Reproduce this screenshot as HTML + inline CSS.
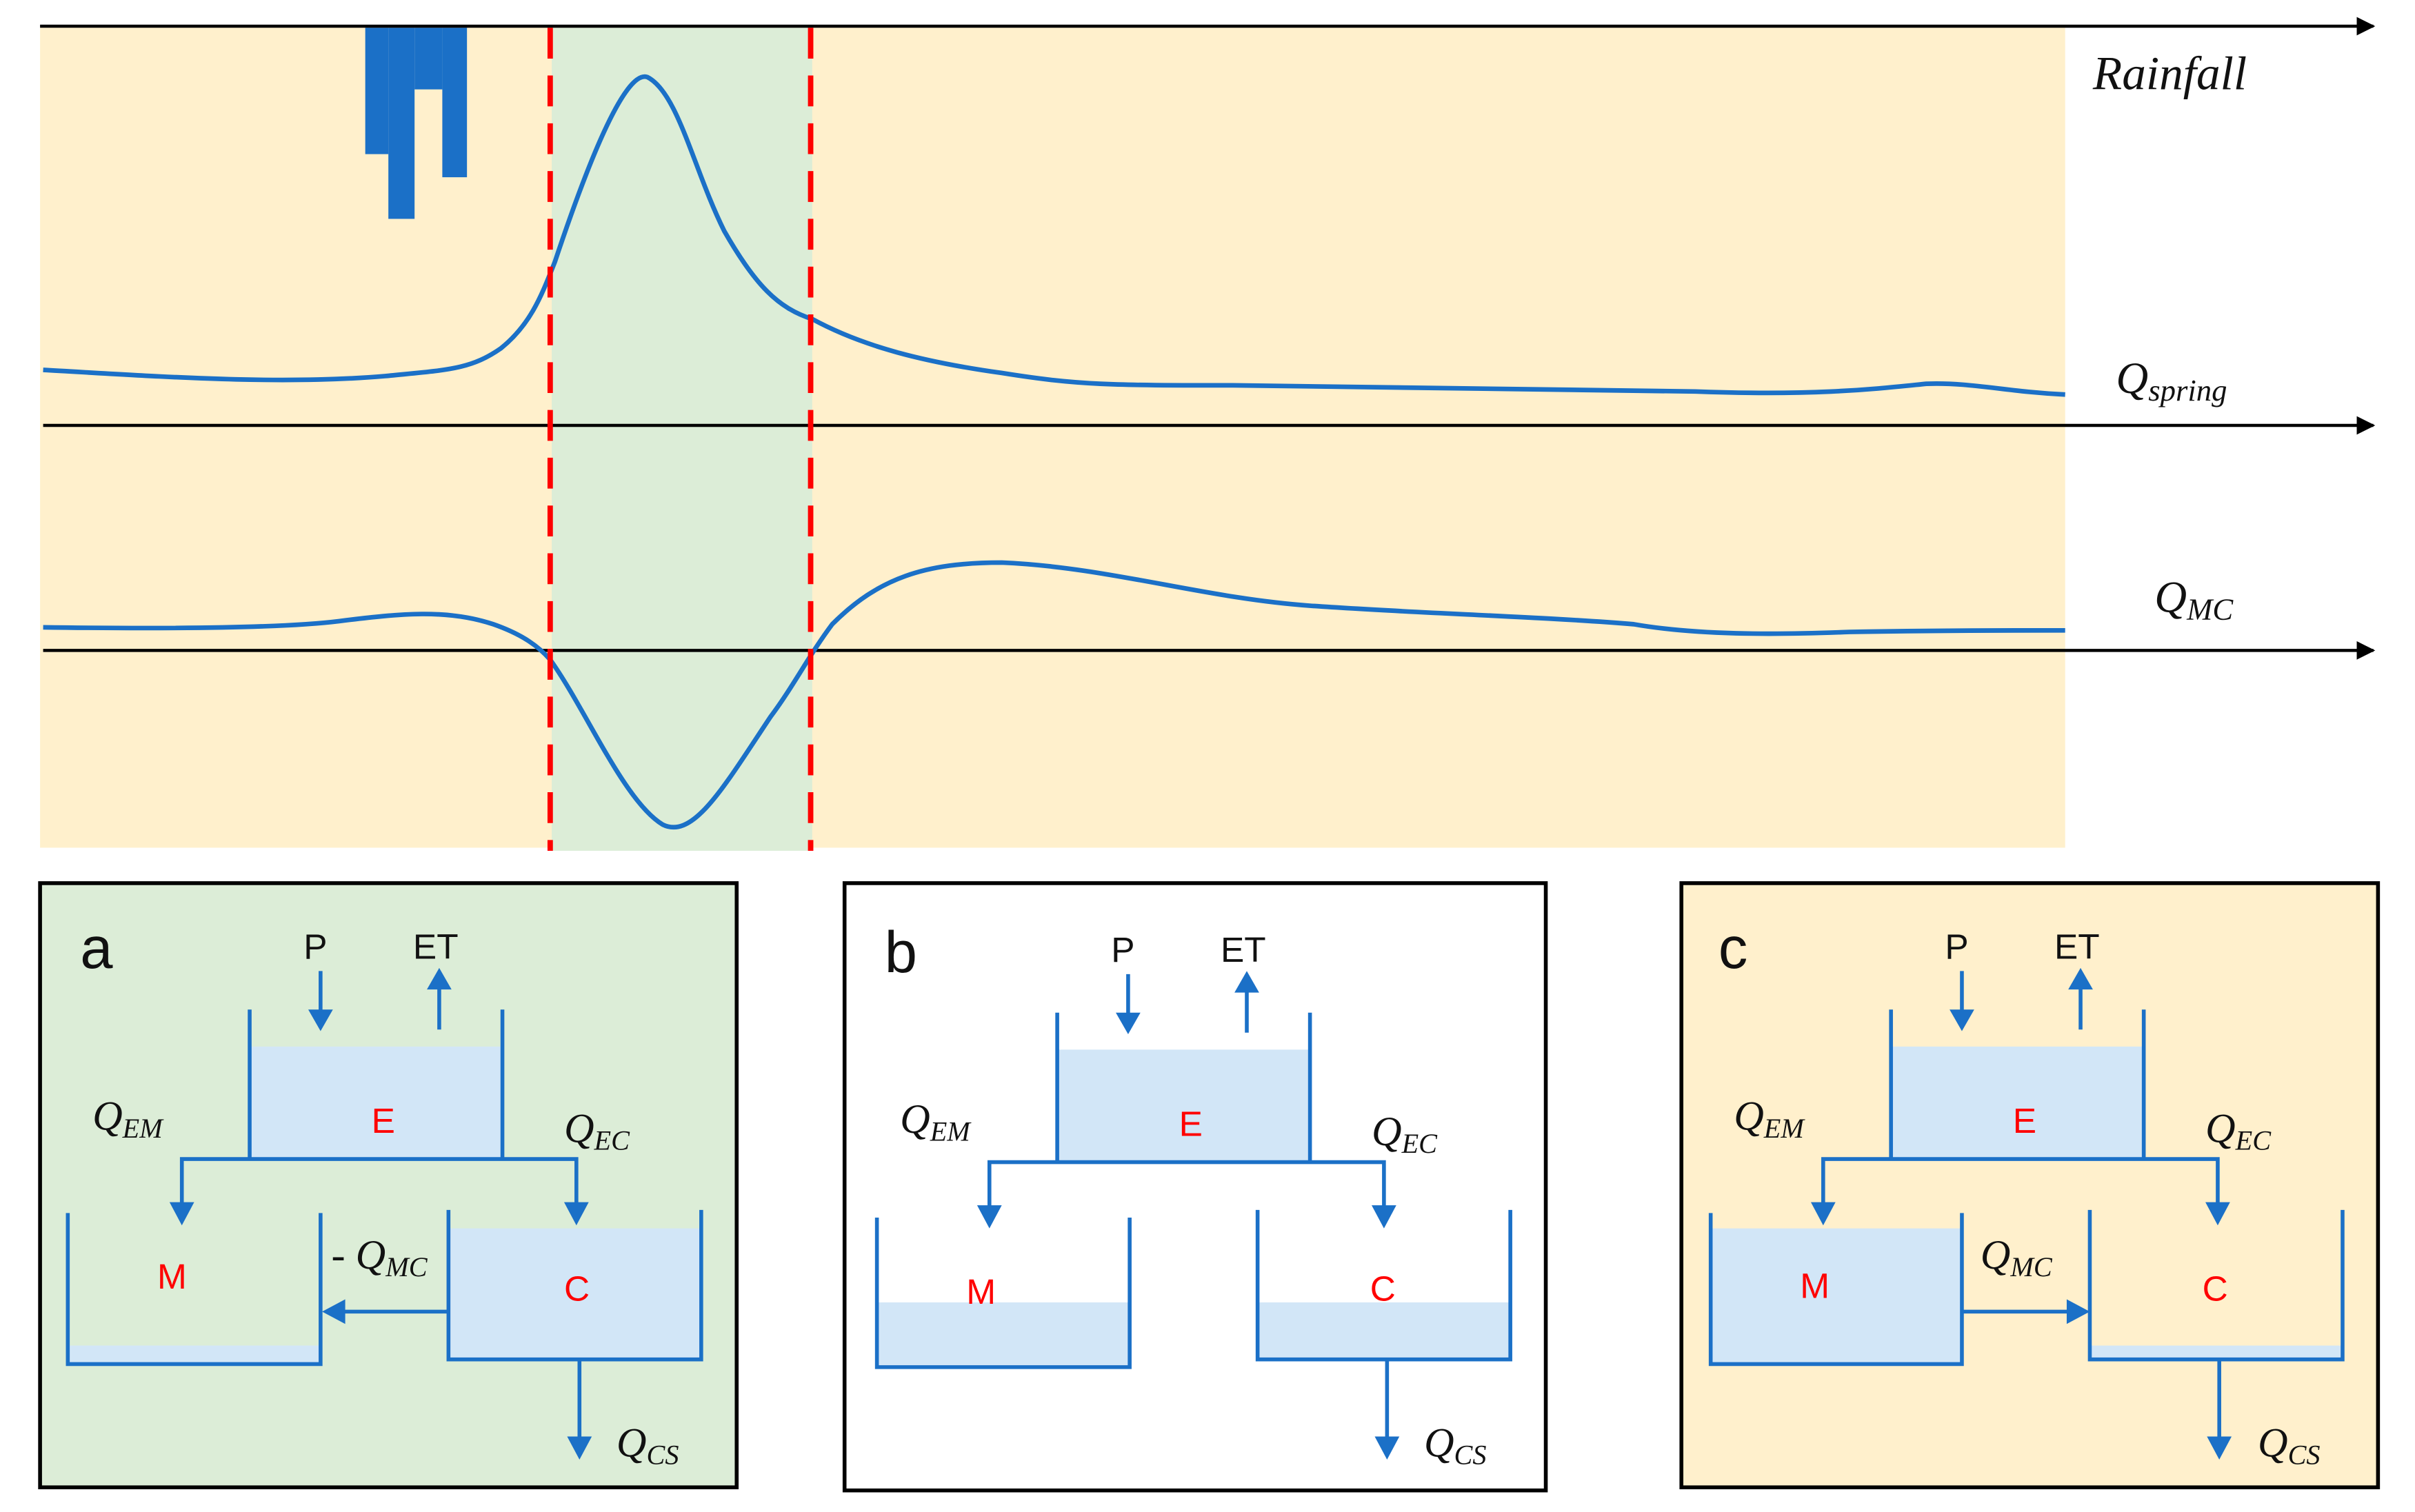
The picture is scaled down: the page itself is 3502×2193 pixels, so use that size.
<!DOCTYPE html>
<html><head><meta charset="utf-8"><style>
html,body{margin:0;padding:0;background:#fff;}
svg{display:block;}
.q{font-family:"Liberation Serif",serif;font-style:italic;fill:#111;}
.s{font-family:"Liberation Sans",sans-serif;fill:#111;}
.r{font-family:"Liberation Sans",sans-serif;fill:#f00;}
</style></head><body>
<svg width="3502" height="2193" viewBox="0 0 1567 981" preserveAspectRatio="none" xmlns="http://www.w3.org/2000/svg">
<defs>
<marker id="ah" viewBox="0 0 10 10" refX="9" refY="5" markerWidth="6" markerHeight="6" orient="auto"><path d="M0,0 L10,5 L0,10 z" fill="#000"/></marker>
</defs>
<rect x="26" y="18" width="1314" height="532" fill="#fff0cc"/>
<rect x="358" y="18" width="169" height="534" fill="#dcedd7"/>
<rect x="237" y="18" width="15" height="82" fill="#1b70c7"/>
<rect x="252" y="18" width="17" height="124" fill="#1b70c7"/>
<rect x="269" y="18" width="18" height="40" fill="#1b70c7"/>
<rect x="287" y="18" width="16" height="97" fill="#1b70c7"/>
<line x1="26" y1="17" x2="1540" y2="17" stroke="#000" stroke-width="2" marker-end="url(#ah)"/>
<line x1="28" y1="276" x2="1540" y2="276" stroke="#000" stroke-width="2" marker-end="url(#ah)"/>
<line x1="28" y1="422" x2="1540" y2="422" stroke="#000" stroke-width="2" marker-end="url(#ah)"/>
<path d="M28,240 C100,244 180,250 250,244 C290,240 305,240 325,226 C345,210 352,190 360,170 C380,110 405,45 420,50 C440,60 450,110 470,150 C490,185 505,200 527,207 C560,225 600,235 650,242 C700,250 720,250 800,250 C900,251 1000,252 1100,254 C1180,257 1220,252 1250,249 C1280,248 1300,254 1340,256" fill="none" stroke="#1b70c7" stroke-width="3"/>
<path d="M28,407 C100,408 180,408 220,403 C260,398 290,395 320,405 C340,412 350,420 357,428 C380,460 405,520 430,535 C450,545 470,510 500,465 C515,445 525,425 540,405 C570,375 600,365 650,365 C720,368 780,388 850,393 C920,398 1000,400 1060,405 C1100,412 1150,412 1200,410 C1260,409 1300,409 1340,409" fill="none" stroke="#1b70c7" stroke-width="3"/>
<line x1="357" y1="18" x2="357" y2="552" stroke="#f00" stroke-width="3.5" stroke-dasharray="20,11"/>
<line x1="526" y1="18" x2="526" y2="552" stroke="#f00" stroke-width="3.5" stroke-dasharray="20,11"/>
<text x="1358" y="58" class="q" font-size="31">Rainfall</text>
<text x="1373" y="255" class="q" font-size="29">Q<tspan font-size="20" dy="5">spring</tspan></text>
<text x="1398" y="397" class="q" font-size="29">Q<tspan font-size="20" dy="5">MC</tspan></text>

<rect x="26" y="573" width="452" height="392" fill="#dcedd7" stroke="#000" stroke-width="2.5"/>
<text x="52" y="628" class="s" font-size="38">a</text>
<g id="common">
<text x="197" y="622" class="s" font-size="23">P</text>
<text x="268" y="622" class="s" font-size="23">ET</text>
<line x1="208" y1="630" x2="208" y2="657" stroke="#1b70c7" stroke-width="2.5"/>
<path d="M200,655 L216,655 L208,669 z" fill="#1b70c7"/>
<line x1="285" y1="668" x2="285" y2="640" stroke="#1b70c7" stroke-width="2.5"/>
<path d="M277,642 L293,642 L285,628 z" fill="#1b70c7"/>
<rect x="162" y="679" width="164" height="72" fill="#d2e6f7"/>
<path d="M162,655 V752 M326,655 V752" stroke="#1b70c7" stroke-width="2.5" fill="none"/>
<path d="M118,787 V752 H374 V787" stroke="#1b70c7" stroke-width="2.5" fill="none"/>
<path d="M110,780 L126,780 L118,795 z" fill="#1b70c7"/>
<path d="M366,780 L382,780 L374,795 z" fill="#1b70c7"/>
<text x="241" y="735" class="r" font-size="23">E</text>
<text x="60" y="733" class="q" font-size="27">Q<tspan font-size="18" dy="5">EM</tspan></text>
<text x="366" y="741" class="q" font-size="27">Q<tspan font-size="18" dy="5">EC</tspan></text>
</g>
<rect x="44" y="873" width="164" height="12" fill="#d2e6f7"/>
<path d="M44,787 V885 H208 V787" stroke="#1b70c7" stroke-width="2.5" fill="none"/>
<rect x="291" y="797" width="164" height="85" fill="#d2e6f7"/>
<path d="M291,785 V882 H455 V785" stroke="#1b70c7" stroke-width="2.5" fill="none"/>
<line x1="291" y1="851" x2="222" y2="851" stroke="#1b70c7" stroke-width="2.5"/>
<path d="M224,843 L224,859 L209,851 z" fill="#1b70c7"/>
<line x1="376" y1="882" x2="376" y2="935" stroke="#1b70c7" stroke-width="2.5"/>
<path d="M368,932 L384,932 L376,947 z" fill="#1b70c7"/>
<text x="102" y="836" class="r" font-size="23">M</text>
<text x="366" y="844" class="r" font-size="23">C</text>
<text x="215" y="823" class="q" font-size="27"><tspan font-style="normal">- </tspan>Q<tspan font-size="18" dy="5">MC</tspan></text>
<text x="400" y="945" class="q" font-size="27">Q<tspan font-size="18" dy="5">CS</tspan></text>

<rect x="548" y="573" width="455" height="394" fill="#fff" stroke="#000" stroke-width="2.5"/>
<text x="574" y="631" class="s" font-size="38">b</text>
<use href="#common" x="524" y="2"/>
<rect x="569" y="845" width="164" height="42" fill="#d2e6f7"/>
<path d="M569,790 V887 H733 V790" stroke="#1b70c7" stroke-width="2.5" fill="none"/>
<rect x="816" y="845" width="164" height="37" fill="#d2e6f7"/>
<path d="M816,785 V882 H980 V785" stroke="#1b70c7" stroke-width="2.5" fill="none"/>
<line x1="900" y1="882" x2="900" y2="935" stroke="#1b70c7" stroke-width="2.5"/>
<path d="M892,932 L908,932 L900,947 z" fill="#1b70c7"/>
<text x="627" y="846" class="r" font-size="23">M</text>
<text x="889" y="844" class="r" font-size="23">C</text>
<text x="924" y="945" class="q" font-size="27">Q<tspan font-size="18" dy="5">CS</tspan></text>

<rect x="1091" y="573" width="452" height="392" fill="#fff0cc" stroke="#000" stroke-width="2.5"/>
<text x="1115" y="628" class="s" font-size="38">c</text>
<use href="#common" x="1065" y="0"/>
<rect x="1110" y="797" width="163" height="88" fill="#d2e6f7"/>
<path d="M1110,787 V885 H1273 V787" stroke="#1b70c7" stroke-width="2.5" fill="none"/>
<rect x="1356" y="873" width="164" height="9" fill="#d2e6f7"/>
<path d="M1356,785 V882 H1520 V785" stroke="#1b70c7" stroke-width="2.5" fill="none"/>
<line x1="1273" y1="851" x2="1343" y2="851" stroke="#1b70c7" stroke-width="2.5"/>
<path d="M1341,843 L1341,859 L1356,851 z" fill="#1b70c7"/>
<line x1="1440" y1="882" x2="1440" y2="935" stroke="#1b70c7" stroke-width="2.5"/>
<path d="M1432,932 L1448,932 L1440,947 z" fill="#1b70c7"/>
<text x="1168" y="842" class="r" font-size="23">M</text>
<text x="1429" y="844" class="r" font-size="23">C</text>
<text x="1285" y="823" class="q" font-size="27">Q<tspan font-size="18" dy="5">MC</tspan></text>
<text x="1465" y="945" class="q" font-size="27">Q<tspan font-size="18" dy="5">CS</tspan></text>
</svg>
</body></html>
